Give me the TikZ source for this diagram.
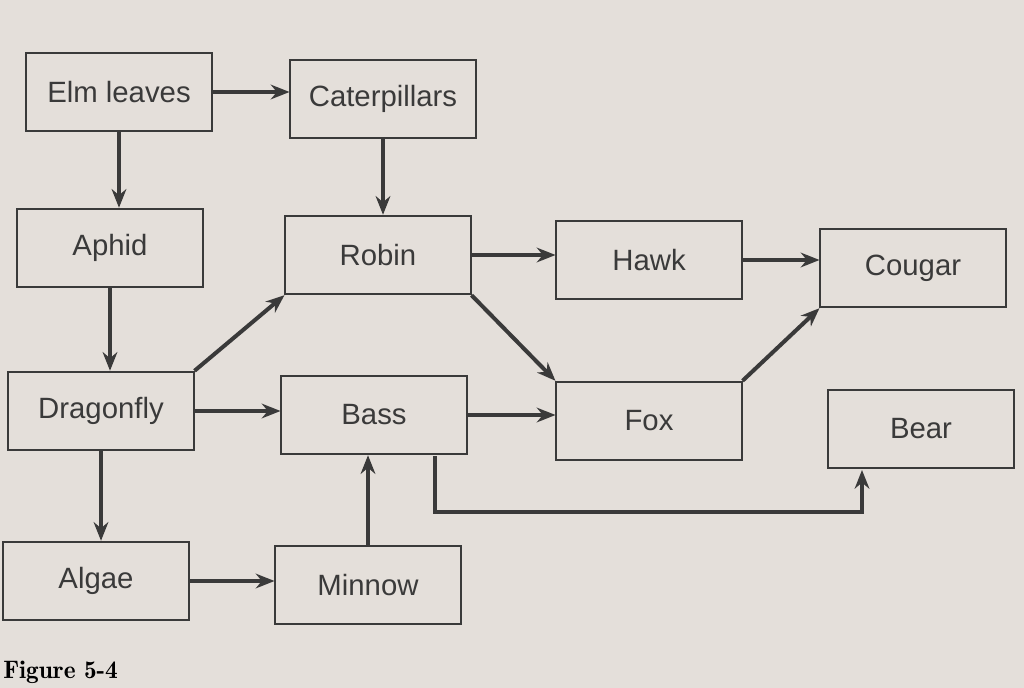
\documentclass[tikz,border=0pt]{standalone}
\usepackage{fontspec}
\setmainfont{Liberation Sans}
\usetikzlibrary{arrows.meta}
\definecolor{paper}{HTML}{E4DFDA}
\definecolor{ink}{HTML}{3A3A3A}
\begin{document}
\begin{tikzpicture}[x=0.75pt,y=-0.75pt,
  bx/.style={draw=ink,line width=1.3pt,minimum width=139pt,minimum height=59pt,inner sep=0pt,font=\fontsize{22}{26}\selectfont,text=ink},
  ar/.style={draw=ink,line width=3pt,-{Stealth[length=14pt,width=11pt]}}]
\fill[paper] (0,0) rectangle (1024,688);
\useasboundingbox (0,0) rectangle (1024,688);
\node[bx] (elm) at (119,92) {Elm leaves};
\node[bx] (cat) at (383,99) {Caterpillars};
\node[bx] (aph) at (110,248) {Aphid};
\node[bx] (rob) at (378,255) {Robin};
\node[bx] (haw) at (649,260) {Hawk};
\node[bx] (cou) at (913,268) {Cougar};
\node[bx] (dra) at (101,411) {Dragonfly};
\node[bx] (bas) at (374,415) {Bass};
\node[bx] (fox) at (649,421) {Fox};
\node[bx] (bea) at (921,429) {Bear};
\node[bx] (alg) at (96,581) {Algae};
\node[bx] (min) at (368,585) {Minnow};
\node[anchor=south west,inner sep=0pt,font=\fontfamily{lmr}\bfseries\fontsize{19}{22}\selectfont] (fig) at (3,684) {Figure 5-4};
\draw[ar] (elm.east) -- (elm.east -| cat.west);
\draw[ar] (elm.south) -- (elm.south |- aph.north);
\draw[ar] (cat.south) -- (cat.south |- rob.north);
\draw[ar] (aph.south) -- (aph.south |- dra.north);
\draw[ar] (dra.north east) -- (rob.south west);
\draw[ar] (dra.east) -- (dra.east -| bas.west);
\draw[ar] (dra.south) -- (dra.south |- alg.north);
\draw[ar] (alg.east) -- (alg.east -| min.west);
\draw[ar] (min.north) -- (min.north |- bas.south);
\draw[ar] (rob.east) -- (rob.east -| haw.west);
\draw[ar] (rob.south east) -- (fox.north west);
\draw[ar] (bas.east) -- (bas.east -| fox.west);
\draw[ar] (haw.east) -- (haw.east -| cou.west);
\draw[ar] (fox.north east) -- (cou.south west);
\coordinate (c1) at (435,512);
\coordinate (c2) at (862,512);
\draw[ar] (435,456) -- (c1) -- (c2) -- (862,470);
\end{tikzpicture}
\end{document}
